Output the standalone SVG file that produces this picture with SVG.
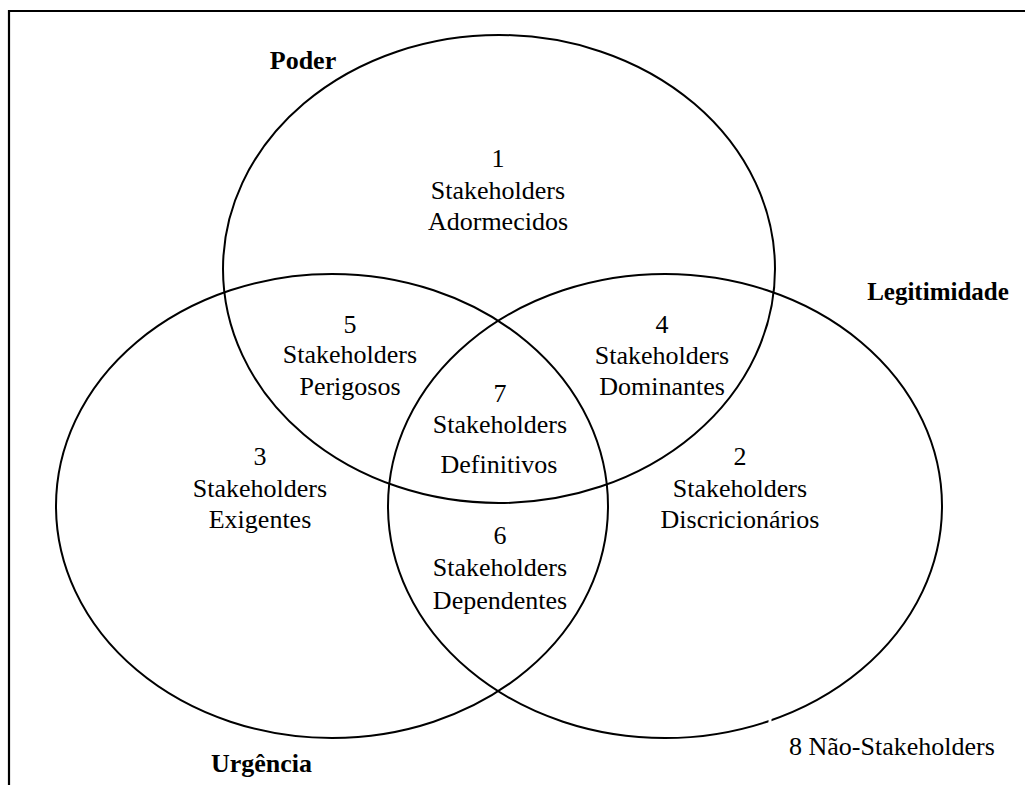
<svg xmlns="http://www.w3.org/2000/svg" width="1025" height="785" viewBox="0 0 1025 785">
<style>
.c{fill:none;stroke:#000;stroke-width:2}
text{font-family:'Liberation Serif','Times New Roman',Times,serif;font-size:26px;fill:#000}
.t{text-anchor:middle}
.b{font-weight:bold}
</style>
<rect width="1025" height="785" fill="#fff"/>
<g id="frame"><path d="M9,785 V11 H1025" fill="none" stroke="#000" stroke-width="2.2"/></g>
<g id="circles">
<ellipse id="poder" class="c" cx="499" cy="269" rx="276" ry="234"/>
<ellipse id="urgencia" class="c" cx="332" cy="506" rx="276" ry="232"/>
<ellipse id="legitimidade" class="c" cx="665" cy="506" rx="277" ry="232"/>
<rect x="768.5" y="717" width="3" height="7" fill="#fff"/>
</g>
<g id="labels">
<text class="b t" x="303" y="69">Poder</text>
<text class="b t" x="938" y="300" style="font-size:25px">Legitimidade</text>
<text class="b" x="211" y="772">Urgência</text>
<text x="789" y="755">8 Não-Stakeholders</text>
</g>
<g id="n1"><text class="t" x="498" y="167">1</text><text class="t" x="498" y="199">Stakeholders</text><text class="t" x="498" y="230">Adormecidos</text></g>
<g id="n5"><text class="t" x="350" y="333">5</text><text class="t" x="350" y="363">Stakeholders</text><text class="t" x="350" y="395">Perigosos</text></g>
<g id="n4"><text class="t" x="662" y="333">4</text><text class="t" x="662" y="364">Stakeholders</text><text class="t" x="662" y="395">Dominantes</text></g>
<g id="n7"><text class="t" x="500" y="402">7</text><text class="t" x="500" y="433">Stakeholders</text><text class="t" x="499" y="473">Definitivos</text></g>
<g id="n3"><text class="t" x="260" y="465">3</text><text class="t" x="260" y="497">Stakeholders</text><text class="t" x="260" y="528">Exigentes</text></g>
<g id="n2"><text class="t" x="740" y="465">2</text><text class="t" x="740" y="497">Stakeholders</text><text class="t" x="740" y="528">Discricionários</text></g>
<g id="n6"><text class="t" x="500" y="544">6</text><text class="t" x="500" y="576">Stakeholders</text><text class="t" x="500" y="609">Dependentes</text></g>
</svg>
